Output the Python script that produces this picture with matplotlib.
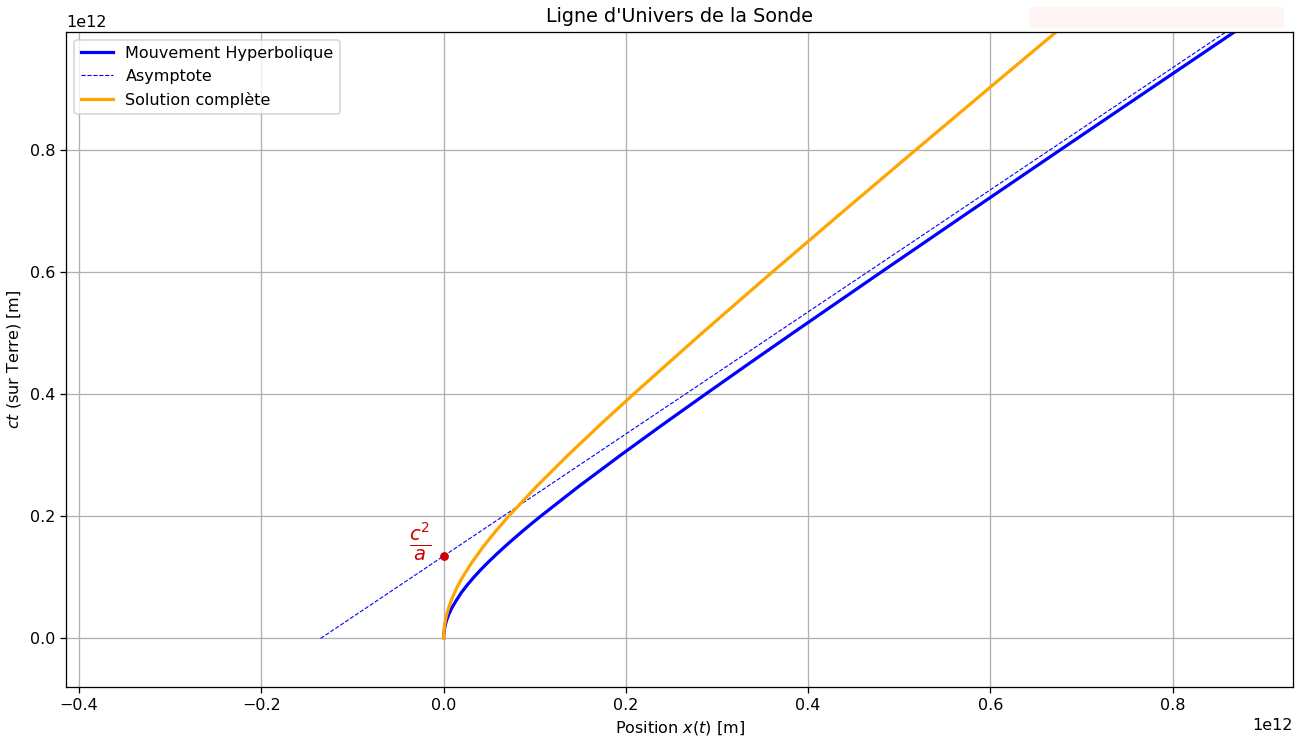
import matplotlib.pyplot as plt
from matplotlib.patches import Rectangle
import numpy as np

# values (units of 1e12 m)
hyper_x = [0.0, 0.0001, 0.0004, 0.0015, 0.0033, 0.0058, 0.0090, 0.0138, 0.0194,
           0.0259, 0.0330, 0.0407, 0.0490, 0.0577, 0.0668, 0.0763, 0.0860,
           0.0960, 0.1063, 0.1491, 0.1940, 0.2401, 0.2872, 0.3348, 0.3829,
           0.4800, 0.5779, 0.6763, 0.7751, 0.8741, 0.9236]
hyper_ct = [0.0, 0.005, 0.01, 0.02, 0.03, 0.04, 0.05, 0.062, 0.075,
            0.0875, 0.1, 0.1125, 0.125, 0.1375, 0.15, 0.1625, 0.175,
            0.1875, 0.2, 0.25, 0.3, 0.35, 0.4, 0.45, 0.5,
            0.6, 0.7, 0.8, 0.9, 1.0, 1.05]

asym_x = [-0.135, 0.875]
asym_ct = [0.0, 1.01]

full_x = [0.0, 0.0002, 0.0009, 0.0027, 0.0054, 0.0099, 0.0151, 0.0206,
          0.0312, 0.0433, 0.0567, 0.0712, 0.1026, 0.1363, 0.1717, 0.2082,
          0.2834, 0.3605, 0.4388, 0.5178, 0.5974, 0.6773, 0.7173]
full_ct = [0.0, 0.01, 0.02, 0.035, 0.05, 0.068, 0.085, 0.1,
           0.125, 0.15, 0.175, 0.2, 0.25, 0.3, 0.35, 0.4,
           0.5, 0.6, 0.7, 0.8, 0.9, 1.0, 1.05]

c2_over_a = 0.135
scale = 1e12

fig = plt.figure(figsize=(1306 / 115, 737 / 115), dpi=115)
ax = fig.add_axes([0.0508, 0.0683, 0.9392, 0.8887])

ax.plot(np.array(hyper_x) * scale, np.array(hyper_ct) * scale,
        color="blue", lw=2, label="Mouvement Hyperbolique")
ax.plot(np.array(asym_x) * scale, np.array(asym_ct) * scale,
        color="blue", lw=0.7, ls="--", label="Asymptote")
ax.plot(np.array(full_x) * scale, np.array(full_ct) * scale,
        color="orange", lw=2, label="Solution complète")

# point c^2/a on the axis
ax.plot([0], [c2_over_a * scale], "o", color="#cc0000", ms=4.5)
ax.text(-0.025 * scale, 0.158 * scale, r"$\frac{c^2}{a}$", color="#cc0000",
        fontsize=17.5, ha="center", va="center")

ax.set_xlim(-0.414 * scale, 0.932 * scale)
ax.set_ylim(-0.079 * scale, 0.994 * scale)
ax.ticklabel_format(axis="both", style="sci", scilimits=(12, 12))
ax.set_title("Ligne d'Univers de la Sonde")
ax.set_xlabel(r"Position $x(t)$ [m]")
ax.set_ylabel(r"$ct$ (sur Terre) [m]")
ax.grid(True)
ax.legend(loc="upper left")

# faint pink box at top right
fig.patches.append(Rectangle((0.788, 0.962), 0.195, 0.0285, transform=fig.transFigure,
                             facecolor="#fff5f5", edgecolor="none"))

fig.savefig("out.png", dpi=115)
